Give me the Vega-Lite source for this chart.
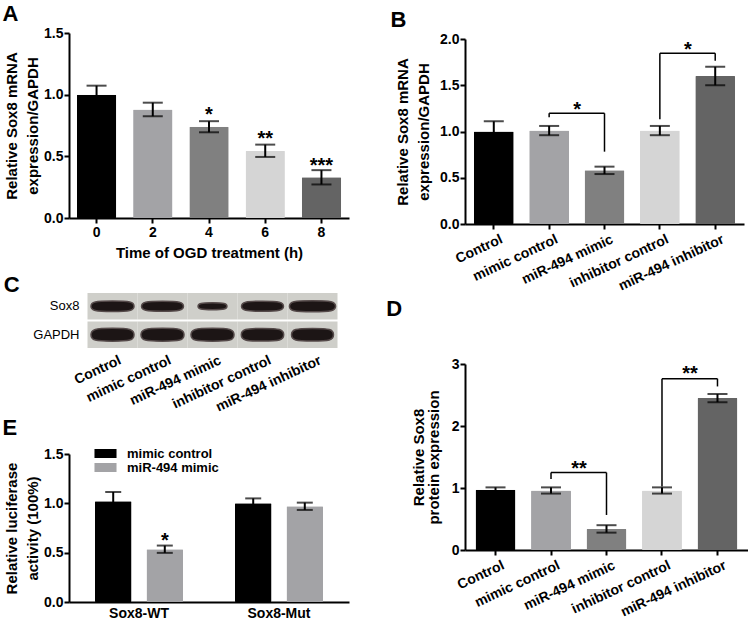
{
  "$schema": "https://vega.github.io/schema/vega-lite/v6.json",
  "padding": {"left": 2, "top": 3, "right": 0, "bottom": 0},
  "config": {
    "font": "Liberation Sans",
    "view": {"stroke": null},
    "axis": {"domainColor": "black", "domainWidth": 2, "tickColor": "black", "tickWidth": 2, "tickSize": 5, "labelColor": "black", "labelFont": "Liberation Sans", "labelFontSize": 14, "labelFontWeight": "bold", "labelPadding": 3, "titleFont": "Liberation Sans", "titleFontSize": 15, "titleFontWeight": "bold", "titleColor": "black", "titleLineHeight": 21, "grid": false},
    "axisY": {"labelPadding": 1, "titlePadding": 3},
    "title": {"font": "Liberation Sans", "fontSize": 22, "fontWeight": "bold", "anchor": "start", "frame": "bounds", "color": "black"},
    "text": {"font": "Liberation Sans", "color": "black"},
    "legend": {"labelFont": "Liberation Sans", "labelColor": "black"}
  },
  "datasets": {
    "a": [
      {"time": "0", "value": 1.0, "sem": 0.073},
      {"time": "2", "value": 0.88, "sem": 0.055},
      {"time": "4", "value": 0.74, "sem": 0.045},
      {"time": "6", "value": 0.545, "sem": 0.05},
      {"time": "8", "value": 0.33, "sem": 0.058}
    ],
    "a_sig": [
      {"time": "4", "label": "*", "at": 0.785},
      {"time": "6", "label": "**", "at": 0.591},
      {"time": "8", "label": "***", "at": 0.373}
    ],
    "b": [
      {"group": "Control", "value": 1.0, "sem": 0.11},
      {"group": "mimic control", "value": 1.01, "sem": 0.05},
      {"group": "miR-494 mimic", "value": 0.58, "sem": 0.04},
      {"group": "inhibitor control", "value": 1.01, "sem": 0.05},
      {"group": "miR-494 inhibitor", "value": 1.6, "sem": 0.1}
    ],
    "b_br": [
      {"from": "mimic control", "to": "miR-494 mimic", "top": 1.197, "fromEnd": 1.154, "toEnd": 0.782, "label": "*", "at": 1.172},
      {"from": "inhibitor control", "to": "miR-494 inhibitor", "top": 1.845, "fromEnd": 1.132, "toEnd": 1.766, "label": "*", "at": 1.82}
    ],
    "c": [
      {"lane": "Control", "protein": "Sox8", "density": 1.0},
      {"lane": "mimic control", "protein": "Sox8", "density": 0.95},
      {"lane": "miR-494 mimic", "protein": "Sox8", "density": 0.45},
      {"lane": "inhibitor control", "protein": "Sox8", "density": 0.95},
      {"lane": "miR-494 inhibitor", "protein": "Sox8", "density": 1.15},
      {"lane": "Control", "protein": "GAPDH", "density": 1.0},
      {"lane": "mimic control", "protein": "GAPDH", "density": 1.0},
      {"lane": "miR-494 mimic", "protein": "GAPDH", "density": 1.0},
      {"lane": "inhibitor control", "protein": "GAPDH", "density": 0.97},
      {"lane": "miR-494 inhibitor", "protein": "GAPDH", "density": 0.95}
    ],
    "d": [
      {"group": "Control", "value": 0.97, "sem": 0.04},
      {"group": "mimic control", "value": 0.96, "sem": 0.05},
      {"group": "miR-494 mimic", "value": 0.34, "sem": 0.06},
      {"group": "inhibitor control", "value": 0.96, "sem": 0.05},
      {"group": "miR-494 inhibitor", "value": 2.45, "sem": 0.065}
    ],
    "d_br": [
      {"from": "mimic control", "to": "miR-494 mimic", "top": 1.249, "fromEnd": 1.147, "toEnd": 0.565, "label": "**", "at": 1.207},
      {"from": "inhibitor control", "to": "miR-494 inhibitor", "top": 2.763, "fromEnd": 1.023, "toEnd": 2.638, "label": "**", "at": 2.74}
    ],
    "e": [
      {"construct": "Sox8-WT", "treatment": "mimic control", "value": 1.02, "sem": 0.095},
      {"construct": "Sox8-WT", "treatment": "miR-494 mimic", "value": 0.535, "sem": 0.037},
      {"construct": "Sox8-Mut", "treatment": "mimic control", "value": 1.0, "sem": 0.05},
      {"construct": "Sox8-Mut", "treatment": "miR-494 mimic", "value": 0.97, "sem": 0.037}
    ],
    "e_sig": [
      {"construct": "Sox8-WT", "treatment": "miR-494 mimic", "label": "*", "at": 0.553}
    ]
  },
  "spacing": 30,
  "resolve": {"scale": {"color": "independent", "size": "independent", "shape": "independent"}},
  "hconcat": [
    {
      "spacing": 14,
      "resolve": {"scale": {"color": "independent", "size": "independent", "shape": "independent"}},
      "vconcat": [
        {
          "title": {"text": "A", "dx": -2, "offset": 0},
          "width": 280, "height": 185,
          "data": {"name": "a"},
          "layer": [
            {"mark": {"type": "bar", "cornerRadius": 1},
             "encoding": {
               "x": {"field": "time", "type": "ordinal", "scale": {"paddingInner": 0.3, "paddingOuter": 0.14}, "title": "Time of OGD treatment (h)", "axis": {"labelAngle": 0, "labelPadding": 2, "titlePadding": 6}},
               "y": {"field": "value", "type": "quantitative", "scale": {"domain": [0, 1.5], "nice": false}, "title": ["Relative Sox8 mRNA", "expression/GAPDH"], "axis": {"values": [0, 0.5, 1, 1.5], "format": ".1f"}},
               "color": {"field": "time", "type": "nominal", "scale": {"domain": ["0", "2", "4", "6", "8"], "range": ["#000000", "#a3a3a6", "#808080", "#d5d5d5", "#646464"]}, "legend": null}}},
            {"mark": {"type": "errorbar", "ticks": true, "size": 20, "thickness": 2, "color": "black"},
             "encoding": {"x": {"field": "time", "type": "ordinal", "title": "Time of OGD treatment (h)"}, "y": {"field": "value", "type": "quantitative", "title": ["Relative Sox8 mRNA", "expression/GAPDH"]}, "yError": {"field": "sem"}}},
            {"data": {"name": "a_sig"}, "mark": {"type": "text", "fontSize": 20, "fontWeight": "bold", "baseline": "alphabetic"},
             "encoding": {"x": {"field": "time", "type": "ordinal", "title": "Time of OGD treatment (h)"}, "y": {"field": "at", "type": "quantitative", "title": ["Relative Sox8 mRNA", "expression/GAPDH"]}, "text": {"field": "label"}}}
          ]
        },
        {
          "spacing": 2,
          "resolve": {"scale": {"color": "independent", "size": "independent", "shape": "independent"}},
          "vconcat": [
            {
              "title": {"text": "C", "dx": -29, "offset": -4},
              "width": 287, "height": 55,
              "data": {"name": "c"},
              "layer": [
                {"mark": {"type": "rect", "color": "#cfcfca"},
                 "encoding": {
                   "x": {"field": "lane", "type": "nominal", "title": null, "scale": {"domain": ["Control", "mimic control", "miR-494 mimic", "inhibitor control", "miR-494 inhibitor"], "paddingInner": 0, "paddingOuter": 0.37}, "axis": {"labelAngle": -25, "domain": false, "ticks": false, "labelPadding": 5, "labelOffset": 5}},
                   "y": {"field": "protein", "type": "nominal", "title": null, "scale": {"domain": ["Sox8", "GAPDH"], "paddingInner": 0.07, "paddingOuter": 0}, "axis": {"domain": false, "ticks": false, "labelFontWeight": "normal", "labelFontSize": 13, "offset": -17, "labelPadding": 7}}}},
                {"mark": {"type": "point", "filled": true, "fill": "#1c1515", "stroke": "#554a4a", "strokeWidth": 1.5, "opacity": 1},
                 "encoding": {
                   "x": {"field": "lane", "type": "nominal", "title": null},
                   "y": {"field": "protein", "type": "nominal", "title": null},
                   "size": {"field": "density", "type": "quantitative", "scale": {"domain": [0, 1.4], "range": [0, 2590]}, "legend": null},
                   "shape": {"field": "protein", "type": "nominal", "scale": {"domain": ["Sox8", "GAPDH"], "range": ["M-1,0C-1,-0.2 -0.8,-0.24 0,-0.24C0.8,-0.24 1,-0.2 1,0C1,0.2 0.8,0.24 0,0.24C-0.8,0.24 -1,0.2 -1,0Z", "M-1,0C-1,-0.26 -0.8,-0.3 0,-0.3C0.8,-0.3 1,-0.26 1,0C1,0.26 0.8,0.3 0,0.3C-0.8,0.3 -1,0.26 -1,0Z"]}, "legend": null}}}
              ]
            },
            {
              "title": {"text": "E", "dx": -2, "offset": 7},
              "width": 280, "height": 148,
              "data": {"name": "e"},
              "layer": [
                {"mark": {"type": "bar", "cornerRadius": 1},
                 "encoding": {
                   "x": {"field": "construct", "type": "nominal", "title": null, "scale": {"domain": ["Sox8-WT", "Sox8-Mut"], "paddingInner": 0.37, "paddingOuter": 0.185}, "axis": {"labelAngle": 0, "ticks": false, "labelPadding": 4}},
                   "xOffset": {"field": "treatment", "type": "nominal", "scale": {"domain": ["mimic control", "miR-494 mimic"], "paddingInner": 0.29, "paddingOuter": 0}},
                   "y": {"field": "value", "type": "quantitative", "scale": {"domain": [0, 1.5], "nice": false}, "title": ["Relative luciferase", "activity (100%)"], "axis": {"values": [0, 0.5, 1, 1.5], "format": ".1f"}},
                   "color": {"field": "treatment", "type": "nominal", "scale": {"domain": ["mimic control", "miR-494 mimic"], "range": ["#000000", "#a3a3a6"]}, "legend": {"title": null, "orient": "none", "legendX": 30, "legendY": -7, "padding": 0, "symbolType": "M-2.45,-1H2.45V1H-2.45Z", "symbolSize": 81, "symbolStrokeWidth": 0, "labelFontSize": 13, "labelFontWeight": "bold", "rowPadding": -3, "labelOffset": 15}}}},
                {"mark": {"type": "errorbar", "ticks": true, "size": 16, "thickness": 2, "color": "black"},
                 "encoding": {"x": {"field": "construct", "type": "nominal", "title": null}, "xOffset": {"field": "treatment", "type": "nominal"}, "y": {"field": "value", "type": "quantitative", "title": ["Relative luciferase", "activity (100%)"]}, "yError": {"field": "sem"}}},
                {"data": {"name": "e_sig"}, "mark": {"type": "text", "fontSize": 20, "fontWeight": "bold", "baseline": "alphabetic"},
                 "encoding": {"x": {"field": "construct", "type": "nominal", "title": null}, "xOffset": {"field": "treatment", "type": "nominal"}, "y": {"field": "at", "type": "quantitative", "title": ["Relative luciferase", "activity (100%)"]}, "text": {"field": "label"}}}
              ]
            }
          ]
        }
      ]
    },
    {
      "spacing": 4,
      "resolve": {"scale": {"color": "independent"}},
      "vconcat": [
        {
          "title": {"text": "B", "dx": -5, "offset": 0},
          "width": 279, "height": 191,
          "layer": [
            {"data": {"name": "b"}, "mark": {"type": "bar", "cornerRadius": 1},
             "encoding": {
               "x": {"field": "group", "type": "nominal", "title": null, "scale": {"domain": ["Control", "mimic control", "miR-494 mimic", "inhibitor control", "miR-494 inhibitor"], "paddingInner": 0.28, "paddingOuter": 0.16}, "axis": {"labelAngle": -25, "labelPadding": 3, "labelOffset": 5}},
               "y": {"field": "value", "type": "quantitative", "scale": {"domain": [0, 2], "nice": false, "range": [191, 6]}, "title": ["Relative Sox8 mRNA", "expression/GAPDH"], "axis": {"values": [0, 0.5, 1, 1.5, 2], "format": ".1f", "titlePadding": 8}},
               "color": {"field": "group", "type": "nominal", "scale": {"domain": ["Control", "mimic control", "miR-494 mimic", "inhibitor control", "miR-494 inhibitor"], "range": ["#000000", "#a3a3a6", "#808080", "#d5d5d5", "#646464"]}, "legend": null}}},
            {"data": {"name": "b"}, "mark": {"type": "errorbar", "ticks": true, "size": 20, "thickness": 2, "color": "black"},
             "encoding": {"x": {"field": "group", "type": "nominal", "title": null}, "y": {"field": "value", "type": "quantitative", "title": ["Relative Sox8 mRNA", "expression/GAPDH"]}, "yError": {"field": "sem"}}},
            {"data": {"name": "b_br"}, "mark": {"type": "rule", "color": "black", "strokeWidth": 1.5},
             "encoding": {"x": {"field": "from", "type": "nominal", "bandPosition": 0.5, "title": null}, "x2": {"field": "to", "bandPosition": 0.5}, "y": {"field": "top", "type": "quantitative", "title": ["Relative Sox8 mRNA", "expression/GAPDH"]}}},
            {"data": {"name": "b_br"}, "mark": {"type": "rule", "color": "black", "strokeWidth": 1.5},
             "encoding": {"x": {"field": "from", "type": "nominal", "title": null}, "y": {"field": "top", "type": "quantitative", "title": ["Relative Sox8 mRNA", "expression/GAPDH"]}, "y2": {"field": "fromEnd"}}},
            {"data": {"name": "b_br"}, "mark": {"type": "rule", "color": "black", "strokeWidth": 1.5},
             "encoding": {"x": {"field": "to", "type": "nominal", "title": null}, "y": {"field": "top", "type": "quantitative", "title": ["Relative Sox8 mRNA", "expression/GAPDH"]}, "y2": {"field": "toEnd"}}},
            {"data": {"name": "b_br"}, "mark": {"type": "text", "fontSize": 20, "fontWeight": "bold", "baseline": "alphabetic", "dx": 28},
             "encoding": {"x": {"field": "from", "type": "nominal", "title": null}, "y": {"field": "at", "type": "quantitative", "title": ["Relative Sox8 mRNA", "expression/GAPDH"]}, "text": {"field": "label"}}}
          ]
        },
        {
          "title": {"text": "D", "dx": -25, "offset": 36},
          "width": 283, "height": 186,
          "layer": [
            {"data": {"name": "d"}, "mark": {"type": "bar", "cornerRadius": 1},
             "encoding": {
               "x": {"field": "group", "type": "nominal", "title": null, "scale": {"domain": ["Control", "mimic control", "miR-494 mimic", "inhibitor control", "miR-494 inhibitor"], "paddingInner": 0.28, "paddingOuter": 0.19}, "axis": {"labelAngle": -25, "labelPadding": 3, "labelOffset": 5}},
               "y": {"field": "value", "type": "quantitative", "scale": {"domain": [0, 3], "nice": false}, "title": ["Relative Sox8", "protein expression"], "axis": {"values": [0, 1, 2, 3], "format": "d", "titlePadding": 10, "titleLineHeight": 15}},
               "color": {"field": "group", "type": "nominal", "scale": {"domain": ["Control", "mimic control", "miR-494 mimic", "inhibitor control", "miR-494 inhibitor"], "range": ["#000000", "#a3a3a6", "#808080", "#d5d5d5", "#646464"]}, "legend": null}}},
            {"data": {"name": "d"}, "mark": {"type": "errorbar", "ticks": true, "size": 20, "thickness": 2, "color": "black"},
             "encoding": {"x": {"field": "group", "type": "nominal", "title": null}, "y": {"field": "value", "type": "quantitative", "title": ["Relative Sox8", "protein expression"]}, "yError": {"field": "sem"}}},
            {"data": {"name": "d_br"}, "mark": {"type": "rule", "color": "black", "strokeWidth": 1.5},
             "encoding": {"x": {"field": "from", "type": "nominal", "bandPosition": 0.5, "title": null}, "x2": {"field": "to", "bandPosition": 0.5}, "y": {"field": "top", "type": "quantitative", "title": ["Relative Sox8", "protein expression"]}}},
            {"data": {"name": "d_br"}, "mark": {"type": "rule", "color": "black", "strokeWidth": 1.5},
             "encoding": {"x": {"field": "from", "type": "nominal", "title": null}, "y": {"field": "top", "type": "quantitative", "title": ["Relative Sox8", "protein expression"]}, "y2": {"field": "fromEnd"}}},
            {"data": {"name": "d_br"}, "mark": {"type": "rule", "color": "black", "strokeWidth": 1.5},
             "encoding": {"x": {"field": "to", "type": "nominal", "title": null}, "y": {"field": "top", "type": "quantitative", "title": ["Relative Sox8", "protein expression"]}, "y2": {"field": "toEnd"}}},
            {"data": {"name": "d_br"}, "mark": {"type": "text", "fontSize": 20, "fontWeight": "bold", "baseline": "alphabetic", "dx": 28},
             "encoding": {"x": {"field": "from", "type": "nominal", "title": null}, "y": {"field": "at", "type": "quantitative", "title": ["Relative Sox8", "protein expression"]}, "text": {"field": "label"}}}
          ]
        }
      ]
    }
  ]
}
